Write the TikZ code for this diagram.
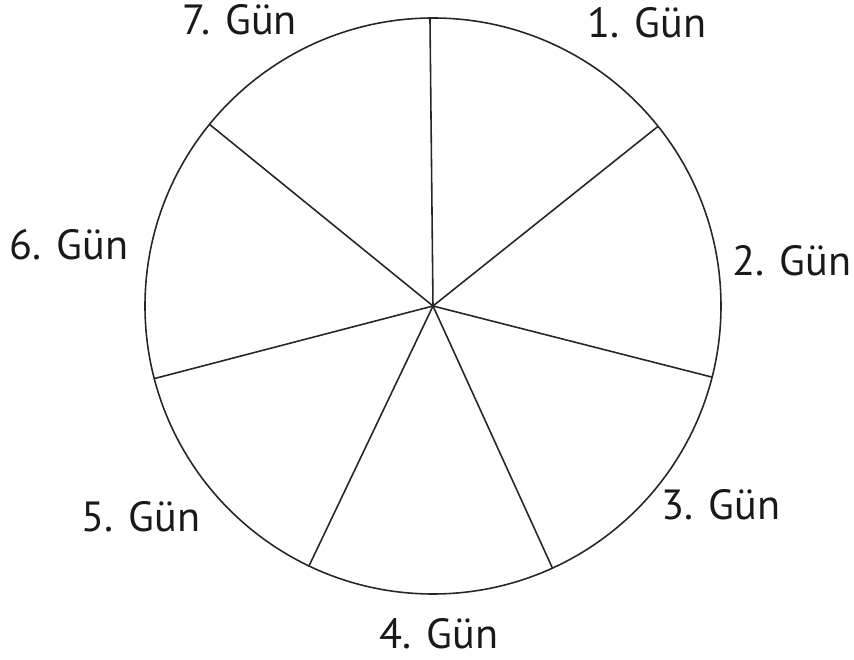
\documentclass[tikz,border=0pt]{standalone}
\usepackage{fontspec}
\setmainfont{PT Sans}
\usetikzlibrary{positioning}

\begin{document}
\begin{tikzpicture}[
    wheel/.style={draw=black!85, line width=0.9pt},
    day/.style={inner sep=0pt, font=\fontsize{24}{27}\selectfont, text=black!90},
  ]
    \useasboundingbox (-8.66,-7.08) rectangle (8.42,6.12);
    \coordinate (c) at (0,0);
    \draw[wheel] (c) circle (5.76);
    % spokes
    \foreach \a [count=\i] in {90.6, 38.6, -14.3, -65.5, -115.5, -165.4, 140.9}
      \coordinate (s\i) at (\a:5.76);
    \foreach \i in {1,...,7}
      \draw[wheel] (c) -- (s\i);
    % days
    \node[day] (g1) at (4.28,5.66) {1. Gün};
    \node[day] (g2) at (7.18,0.90) {2. Gün};
    \node[day] (g3) at (5.76,-3.98) {3. Gün};
    \node[day] (g4) at (0.12,-6.56) {4. Gün};
    \node[day] (g5) at (-5.84,-4.22) {5. Gün};
    \node[day] (g6) at (-7.28,1.22) {6. Gün};
    \node[day] (g7) at (-3.86,5.72) {7. Gün};
  \end{tikzpicture}
\end{document}
